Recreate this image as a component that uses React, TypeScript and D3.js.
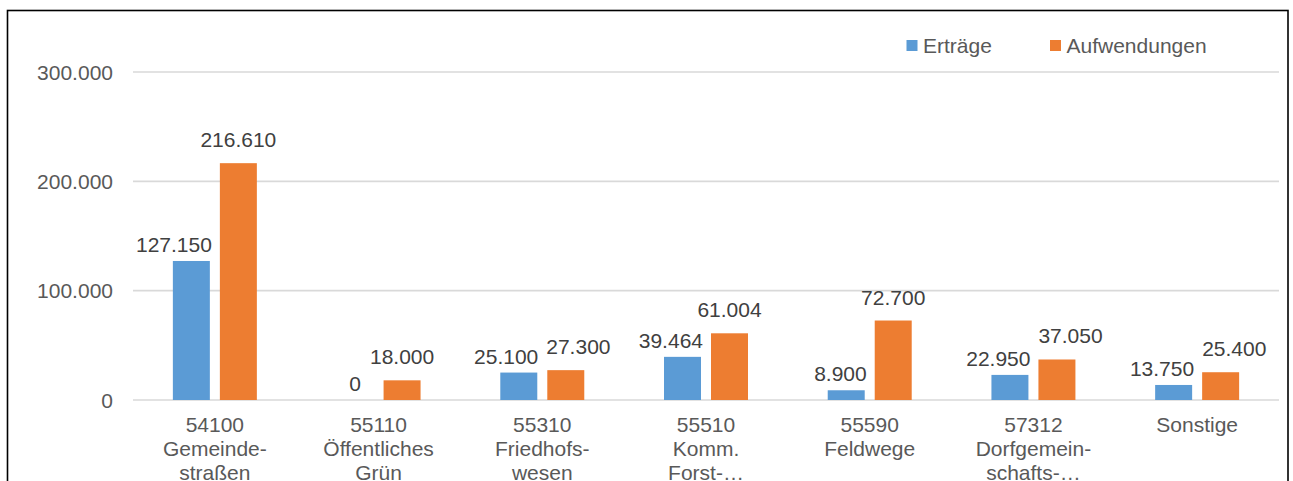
import React from "react";
import * as d3 from "d3";

const categories: string[][] = [
  ["54100", "Gemeinde-", "straßen"],
  ["55110", "Öffentliches", "Grün"],
  ["55310", "Friedhofs-", "wesen"],
  ["55510", "Komm.", "Forst-…"],
  ["55590", "Feldwege"],
  ["57312", "Dorfgemein-", "schafts-…"],
  ["Sonstige"],
];
const ertraege = [127150, 0, 25100, 39464, 8900, 22950, 13750];
const aufwendungen = [216610, 18000, 27300, 61004, 72700, 37050, 25400];
const yTicks = [0, 100000, 200000, 300000];
const seriesNames = ["Erträge", "Aufwendungen"];

const W = 1293;
const H = 481;
const FONT = "'Liberation Sans', Arial, sans-serif";
const FS = 21;
const TEXT = "#595959";
const COLORS = ["#5B9BD5", "#ED7D31"];
const GAPS = [9, 16];

const loc = d3.formatLocale({ decimal: ",", thousands: ".", grouping: [3], currency: ["", "€"] });
const fmt = loc.format(",.0f");

function textWidth(s: string) {
  let w = 0;
  for (const c of s) {
    if (c === "." || c === ",") w += 0.278;
    else w += 0.556;
  }
  return w * FS;
}

export default function App() {
  const left = 133;
  const right = 1279;
  const x0 = d3
    .scaleBand<number>()
    .domain(categories.map((_, i) => i))
    .range([left, right])
    .paddingInner(0.487)
    .paddingOuter(0.487 / 2);
  const x1 = d3
    .scaleBand<number>()
    .domain([0, 1])
    .range([0, x0.bandwidth()])
    .paddingInner(0.213);
  const y = d3.scaleLinear().domain([0, 300000]).range([400, 72]);
  const data = [ertraege, aufwendungen];

  // label layout with simple collision avoidance
  const labels: { x: number; y: number; text: string }[] = [];
  categories.forEach((_, i) => {
    const bx = x0(i)! + x1(0)!;
    const ox = x0(i)! + x1(1)!;
    const bw = x1.bandwidth();
    const bt = data[0][i];
    const ot = data[1][i];
    const bTop = y(bt);
    const oTop = y(ot);
    const bText = fmt(bt);
    const oText = fmt(ot);
    const bW = textWidth(bText);
    const oW = textWidth(oText);
    let bc = bx + bw / 2;
    let oc = ox + bw / 2;
    const bBase = bTop - GAPS[0];
    const oBase = oTop - GAPS[1];
    const pad = 8;
    let shifted = false;
    if (bc + bW / 2 > ox - pad && bBase > oTop) {
      bc = ox - pad - bW / 2;
      shifted = true;
    }
    const bBoxTop = bBase - 22;
    const oBoxTop = oBase - 22;
    if (bBoxTop - 4 < oBase && oBoxTop < bBase) {
      const ov = bc + bW / 2 + pad - (oc - oW / 2);
      if (ov > 0) {
        if (shifted) oc += ov;
        else {
          bc -= ov / 2;
          oc += ov / 2;
        }
      }
    }
    labels.push({ x: bc, y: bBase, text: bText });
    labels.push({ x: oc, y: oBase, text: oText });
  });

  return (
    <svg
      width={W}
      height={H}
      style={{ position: "absolute", left: 0, top: 0, background: "#fff" }}
      fontFamily={FONT}
    >
      <rect x={0} y={0} width={W} height={H} fill="#fff" />
      <rect x={7.5} y={10.5} width={1280.5} height={H + 20} fill="none" stroke="#000" strokeWidth={1.6} />
      {yTicks.map((t) => (
        <g key={t}>
          <line x1={left} x2={right} y1={y(t)} y2={y(t)} stroke="#d9d9d9" strokeWidth={1.6} />
          <text x={113} y={y(t) + 7.5} textAnchor="end" fontSize={FS} fill={TEXT}>
            {fmt(t)}
          </text>
        </g>
      ))}
      {data.map((series, s) =>
        series.map((v, i) => (
          <rect
            key={`${s}-${i}`}
            x={x0(i)! + x1(s)!}
            y={y(v)}
            width={x1.bandwidth()}
            height={y(0) - y(v)}
            fill={COLORS[s]}
          />
        ))
      )}
      {labels.map((l, i) => (
        <text key={i} x={l.x} y={l.y} textAnchor="middle" fontSize={FS} fill="#404040">
          {l.text}
        </text>
      ))}
      {categories.map((lines, i) => (
        <text
          key={i}
          x={x0(i)! + x0.bandwidth() / 2}
          textAnchor="middle"
          fontSize={FS}
          fill={TEXT}
        >
          {lines.map((ln, j) => (
            <tspan key={j} x={x0(i)! + x0.bandwidth() / 2} y={432 + j * 24}>
              {ln}
            </tspan>
          ))}
        </text>
      ))}
      {seriesNames.map((n, s) => {
        const lx = [906.5, 1050][s];
        return (
          <g key={n}>
            <rect x={lx} y={40} width={11} height={11} fill={COLORS[s]} />
            <text x={lx + 16.5} y={52.5} fontSize={FS} fill={TEXT}>
              {n}
            </text>
          </g>
        );
      })}
    </svg>
  );
}
